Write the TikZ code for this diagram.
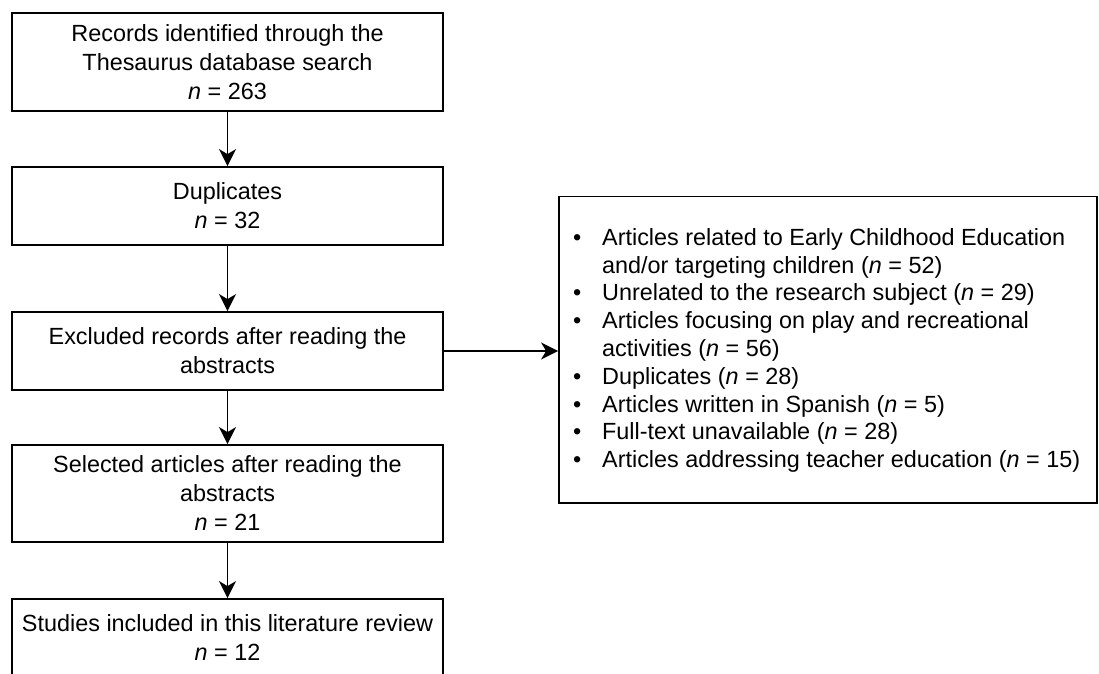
\documentclass[tikz,border=0pt]{standalone}
\usepackage{fontspec}
\setmainfont{Liberation Sans}
\usetikzlibrary{arrows.meta}
\begin{document}
\begin{tikzpicture}[x=1pt,y=-1pt,
  box/.style={draw, line width=1.8pt, minimum width=431pt, inner sep=0pt, align=center, font=\fontsize{23.4}{29}\selectfont},
  arr/.style={line width=1.8pt, -{Stealth[length=17pt,width=17pt,inset=5pt]}},
  listtext/.style={inner sep=0pt, anchor=west, font=\fontsize{23.4}{27.8}\selectfont}]
\useasboundingbox (0,0) rectangle (1099,673);
\clip (0,0) rectangle (1099,673);
\node[box, minimum height=98pt] (b1) at (227.5,62) {Records identified through the\\Thesaurus database search\\\textit{n} = 263};
\node[box, minimum height=78pt] (b2) at (227.5,206) {Duplicates\\\textit{n} = 32};
\node[box, minimum height=78pt] (b3) at (227.5,351) {Excluded records after reading the\\abstracts};
\node[box, minimum height=97pt] (b4) at (227.5,493.5) {Selected articles after reading the\\abstracts\\\textit{n} = 21};
\node[box, minimum height=78pt] (b5) at (227.5,638) {Studies included in this literature review\\\textit{n} = 12};
\node[draw, line width=1.8pt, minimum width=538pt, minimum height=306.5pt, inner sep=0pt] (ex) at (828,349.75) {};
\node[listtext] (lt) at (573,351) {%
\begin{tabular}{@{}l@{\hspace{20.8pt}}l@{}}
\textbullet & Articles related to Early Childhood Education\\
 & and/or targeting children (\textit{n} = 52)\\
\textbullet & Unrelated to the research subject (\textit{n} = 29)\\
\textbullet & Articles focusing on play and recreational\\
 & activities (\textit{n} = 56)\\
\textbullet & Duplicates (\textit{n} = 28)\\
\textbullet & Articles written in Spanish (\textit{n} = 5)\\
\textbullet & Full-text unavailable (\textit{n} = 28)\\
\textbullet & Articles addressing teacher education (\textit{n} = 15)
\end{tabular}};
\draw[arr] (b1) -- (b2);
\draw[arr] (b2) -- (b3);
\draw[arr] (b3) -- (b4);
\draw[arr] (b4) -- (b5);
\draw[arr] (b3.east) -- (ex.west |- b3.east);
\end{tikzpicture}
\end{document}
